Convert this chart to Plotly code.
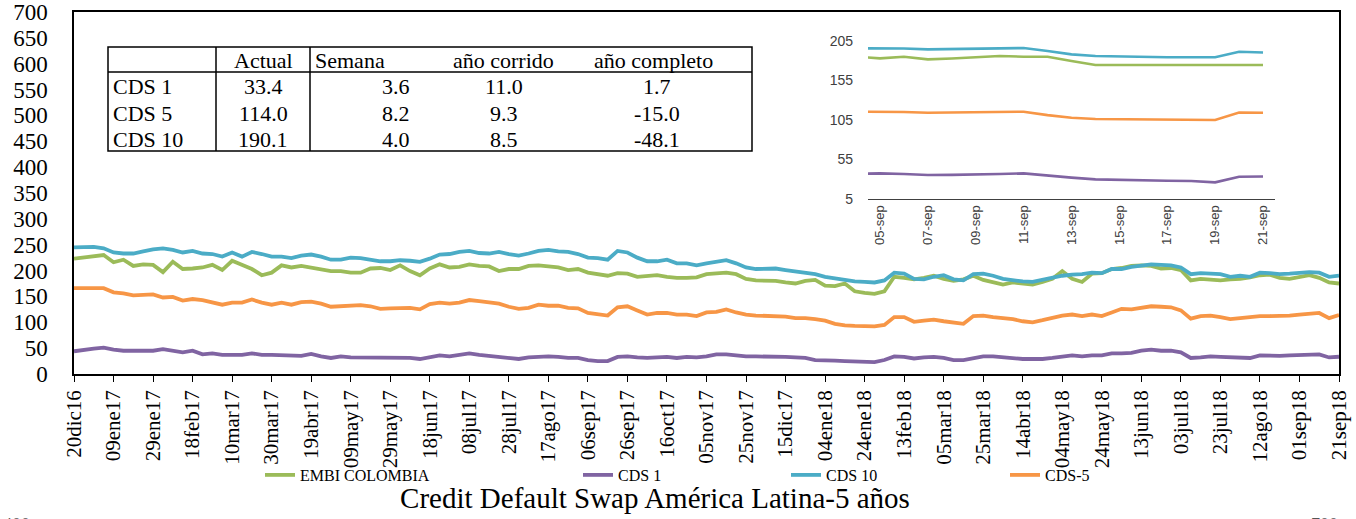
import pandas as pd
import plotly.graph_objects as go

# ---------------- DATA ----------------
fecha_inicio = "2016-12-20"
fechas = pd.date_range(fecha_inicio, periods=129, freq="5D")

embi_colombia = [223, 225, 227, 230, 216, 221, 209, 212, 211, 197, 217, 203, 204,
                 206, 211, 201, 219, 210, 203, 191, 196, 210, 206, 209, 206,
                 203, 199, 199, 196, 196, 204, 205, 201, 210, 199, 191, 204,
                 212, 206, 207, 212, 209, 208, 199, 203, 203, 209, 210, 208,
                 206, 201, 203, 196, 193, 190, 195, 194, 188, 190, 191, 188,
                 186, 186, 187, 193,
                 194, 196, 193, 184, 181, 180, 180, 177, 175, 180,
                 182, 171, 170, 175, 160, 157, 155, 160, 188, 186,
                 183, 186, 190, 184, 180, 183, 190, 182, 177, 173,
                 177, 175, 173, 178, 184, 199, 184, 178, 194, 195,
                 203, 205, 209, 210, 209, 204, 205, 201, 181, 184,
                 183, 181, 183, 184, 187, 191, 192, 186, 184, 188,
                 191, 186, 177, 175]

cds_1 = [44, 47, 49, 51, 47, 45, 45, 45, 45, 48, 45, 42, 45,
         38, 40, 37, 37, 37, 40, 37, 37, 36, 35, 35, 39,
         34, 31, 34, 32, 32, 32, 31, 31, 31, 31, 29, 32,
         36, 34, 37, 40, 37, 35, 34, 32, 29, 32, 33, 34,
         33, 31, 31, 27, 25, 25, 33, 34, 32, 31, 32, 33,
         31, 33, 32, 34,
         38, 38, 36, 34, 34, 34, 34, 33, 32, 31,
         27, 27, 26, 25, 24, 23, 23, 27, 34, 33,
         30, 32, 33, 31, 27, 27, 31, 34, 34, 32,
         30, 29, 29, 29, 31, 34, 36, 34, 36, 36,
         40, 40, 41, 45, 47, 45, 45, 42, 31, 32,
         34, 33, 32, 31, 31, 36, 35, 35, 36, 37,
         37, 38, 32, 33.4]

cds_10 = [245, 245, 246, 243, 235, 233, 233, 237, 241, 243, 240, 235, 238,
          233, 232, 227, 235, 227, 236, 232, 227, 227, 224, 229, 231,
          227, 221, 221, 225, 224, 221, 218, 218, 220, 219, 217, 223,
          231, 232, 236, 238, 234, 233, 236, 232, 229, 233, 238, 240,
          237, 236, 232, 225, 224, 221, 238, 235, 225, 218, 218, 221,
          214, 214, 210, 214,
          217, 220, 214, 206, 203, 204, 204, 201, 198, 196,
          193, 188, 185, 181, 179, 178, 177, 181, 196, 194,
          184, 183, 188, 191, 183, 181, 193, 194, 190, 184,
          181, 179, 178, 182, 186, 190, 192, 193, 196, 195,
          203, 203, 207, 209, 212, 211, 210, 206, 193, 195,
          194, 193, 188, 190, 188, 196, 195, 193, 194, 196,
          197, 196, 188, 190.1]

cds_5 = [166, 166, 166, 166, 158, 156, 152, 153, 154, 148, 149, 142, 145,
         143, 138, 134, 138, 138, 144, 138, 134, 138, 134, 139, 140,
         136, 130, 131, 131, 133, 131, 126, 127, 128, 128, 125, 135,
         138, 136, 138, 143, 141, 139, 136, 130, 126, 128, 134, 132,
         132, 128, 127, 118, 116, 113, 129, 131, 123, 115, 118, 118,
         115, 115, 112, 119,
         120, 125, 119, 115, 113, 112, 112, 111, 108, 108,
         106, 103, 97, 94, 93, 92, 92, 95, 110, 110,
         101, 103, 105, 102, 99, 97, 112, 113, 110, 108,
         106, 102, 100, 104, 108, 113, 115, 112, 115, 112,
         119, 126, 125, 128, 131, 130, 129, 123, 107, 112,
         113, 110, 106, 108, 110, 112, 112, 112, 113, 115,
         116, 118, 108, 114.0]

tick_fechas = pd.date_range(fecha_inicio, periods=33, freq="20D")
tick_textos = ["20dic16", "09ene17", "29ene17", "18feb17", "10mar17", "30mar17",
               "19abr17", "09may17", "29may17", "18jun17", "08jul17", "28jul17",
               "17ago17", "06sep17", "26sep17", "16oct17", "05nov17", "25nov17",
               "15dic17", "04ene18", "24ene18", "13feb18", "05mar18", "25mar18",
               "14abr18", "04may18", "24may18", "13jun18", "03jul18", "23jul18",
               "12ago18", "01sep18", "21sep18"]

# inset (últimos días)
inset_fechas = pd.date_range("2018-09-04", periods=18, freq="D")
inset_embi = [184.8, 182.7, 184.8, 181.4, 182.5, 184.0, 185.6, 184.8, 184.8,
              179.3, 174.3, 174.3, 174.3, 174.3, 174.3, 174.3, 174.3, 174.3]
inset_cds1 = [36.6, 37.4, 36.5, 35.3, 35.5, 35.7, 36.5, 37.4, 34.5,
              32.0, 29.8, 29.0, 28.5, 28.0, 27.7, 26.0, 33.2, 33.4]
inset_cds10 = [195.3, 195.7, 195.2, 194.0, 194.5, 195.0, 195.4, 195.7, 192.0,
               187.7, 185.6, 184.8, 184.5, 184.0, 184.0, 184.0, 191.0, 190.1]
inset_cds5 = [115.3, 115.3, 115.0, 114.0, 114.5, 115.0, 115.3, 115.3, 111.0,
              107.7, 106.0, 105.6, 105.2, 104.8, 104.8, 104.8, 114.3, 114.0]
inset_tick_fechas = pd.date_range("2018-09-05", periods=9, freq="2D")
inset_tick_textos = ["05-sep", "07-sep", "09-sep", "11-sep", "13-sep",
                     "15-sep", "17-sep", "19-sep", "21-sep"]
inset_yticks = [5, 55, 105, 155, 205]

# tabla
tabla_filas = ["CDS 1", "CDS 5", "CDS 10"]
tabla_columnas = ["Actual", "Semana", "año corrido", "año completo"]
tabla_actual = [33.4, 114.0, 190.1]
tabla_semana = [3.6, 8.2, 4.0]
tabla_corrido = [11.0, 9.3, 8.5]
tabla_completo = [1.7, -15.0, -48.1]

titulo = "Credit Default Swap América Latina-5 años"

# ---------------- LAYOUT HELPERS ----------------
W, H = 1356, 519
ML, MR, MT, MB = 74, 17, 12, 145
PW, PH = W - ML - MR, H - MT - MB


def fx(x):
    return (x - ML) / PW


def fy(y):
    return (H - MB - y) / PH


SERIF = "Liberation Serif, Times New Roman, serif"
SANS = "Liberation Sans, Arial, sans-serif"
colores = {"EMBI COLOMBIA": "#9BBB59", "CDS 1": "#8064A2",
           "CDS 10": "#4BACC6", "CDS-5": "#F79646"}

fig = go.Figure()

series = [("EMBI COLOMBIA", embi_colombia, inset_embi, "legend"),
          ("CDS 1", cds_1, inset_cds1, "legend2"),
          ("CDS 10", cds_10, inset_cds10, "legend3"),
          ("CDS-5", cds_5, inset_cds5, "legend4")]

for nombre, vals, ivals, leg in series:
    fig.add_trace(go.Scatter(x=fechas, y=vals, mode="lines", name=nombre,
                             line=dict(color=colores[nombre], width=3.8),
                             legend=leg, xaxis="x", yaxis="y"))
for nombre, vals, ivals, leg in series:
    fig.add_trace(go.Scatter(x=inset_fechas, y=ivals, mode="lines", name=nombre,
                             line=dict(color=colores[nombre], width=2.6),
                             showlegend=False, xaxis="x2", yaxis="y2"))

legend_x = [260, 578, 786, 1005]
legend_common = dict(orientation="h", yanchor="middle", xanchor="left",
                     font=dict(family=SERIF, size=16, color="black"),
                     bgcolor="rgba(0,0,0,0)", borderwidth=0)

fig.update_layout(
    width=W, height=H,
    margin=dict(l=ML, r=MR, t=MT, b=MB, autoexpand=False),
    paper_bgcolor="white", plot_bgcolor="white",
    legend=dict(x=fx(legend_x[0]), y=fy(475), **legend_common),
    legend2=dict(x=fx(legend_x[1]), y=fy(475), **legend_common),
    legend3=dict(x=fx(legend_x[2]), y=fy(475), **legend_common),
    legend4=dict(x=fx(legend_x[3]), y=fy(475), **legend_common),
    title=dict(text=titulo, x=655 / W, xanchor="center", yref="container",
               y=1 - 498 / H, yanchor="middle",
               font=dict(family=SERIF, size=29, color="black")),
    xaxis=dict(type="date", range=[fechas[0], fechas[-1]], automargin=False,
               tickvals=tick_fechas, ticktext=tick_textos, tickangle=-90,
               ticks="outside", ticklen=6, tickcolor="black", tickwidth=1.3,
               showline=True, linecolor="black", linewidth=1.5, mirror=True,
               showgrid=False, zeroline=False,
               tickfont=dict(family=SERIF, size=21, color="black")),
    yaxis=dict(range=[0, 700], dtick=50, ticks="", showline=True, automargin=False,
               linecolor="black", linewidth=1.5, mirror=True, showgrid=False,
               zeroline=False, ticklabelstandoff=20,
               tickfont=dict(family=SERIF, size=23, color="black")),
    xaxis2=dict(type="date", domain=[fx(868), fx(1275)], anchor="y2",
                range=["2018-09-04 12:00", "2018-09-21 12:00"],
                tickvals=inset_tick_fechas, ticktext=inset_tick_textos,
                tickangle=-90, ticks="", showline=True, linecolor="#404040",
                linewidth=1, showgrid=False, zeroline=False,
                tickfont=dict(family=SANS, size=13, color="#404040")),
    yaxis2=dict(domain=[fy(199), fy(40.7)], anchor="x2", range=[5, 205],
                tickvals=inset_yticks, ticks="", showline=False, showgrid=False,
                zeroline=False, ticklabelstandoff=14,
                tickfont=dict(family=SANS, size=14, color="#404040")),
)

# ----- tabla -----
tx0, tx1, ty0, ty1 = 108, 752, 47, 151
ty_head = 72
col_lines = [216, 310]
lw = dict(color="black", width=1.5)
fig.add_shape(type="rect", xref="paper", yref="paper", x0=fx(tx0), x1=fx(tx1),
              y0=fy(ty1), y1=fy(ty0), line=lw, layer="above")
fig.add_shape(type="line", xref="paper", yref="paper", x0=fx(tx0), x1=fx(tx1),
              y0=fy(ty_head), y1=fy(ty_head), line=lw)
for cx in col_lines:
    fig.add_shape(type="line", xref="paper", yref="paper", x0=fx(cx), x1=fx(cx),
                  y0=fy(ty0), y1=fy(ty1), line=lw)

tfont = dict(family=SERIF, size=22, color="black")
head_pos = [(263, "center"), (313, "left"), (503, "center"), (653, "center")]
for (hx, anc), txt in zip(head_pos, tabla_columnas):
    fig.add_annotation(text=txt, xref="paper", yref="paper", x=fx(hx), y=fy(60),
                       xanchor=anc, yanchor="middle", showarrow=False, font=tfont)

row_y = [87, 113, 139]
col_x = [263, 396, 504, 657]
for i, fila in enumerate(tabla_filas):
    fig.add_annotation(text=fila, xref="paper", yref="paper", x=fx(111), y=fy(row_y[i]),
                       xanchor="left", yanchor="middle", showarrow=False, font=tfont)
    for cx, col in zip(col_x, [tabla_actual, tabla_semana, tabla_corrido, tabla_completo]):
        fig.add_annotation(text=f"{col[i]:.1f}", xref="paper", yref="paper",
                           x=fx(cx), y=fy(row_y[i]), xanchor="center",
                           yanchor="middle", showarrow=False, font=tfont)

# fragmentos cortados en el borde inferior (como en la imagen original)
for txt, xx in [("400", 16), ("700", 1324)]:
    fig.add_annotation(text=txt, xref="paper", yref="paper", x=fx(xx), y=fy(513),
                       xanchor="center", yanchor="top", showarrow=False,
                       font=dict(family=SERIF, size=18, color="#555555"))

fig.write_html("out.html", config={"displayModeBar": False},
               post_script="document.body.style.margin='0';"
                           "document.body.style.overflow='hidden';")
